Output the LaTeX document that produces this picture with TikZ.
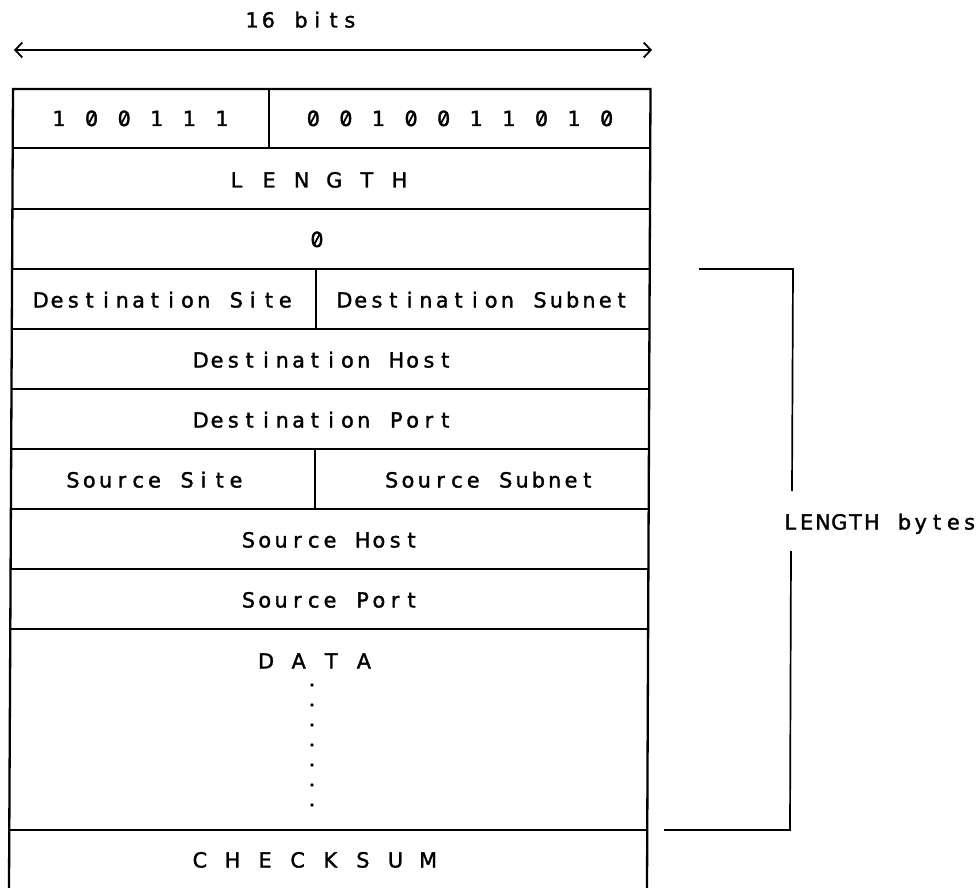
\documentclass[tikz,border=0pt]{standalone}
\usepackage{fontspec}
\setmainfont{DejaVu Sans}
\newfontfamily\pltfont{DejaVu Sans}[FakeBold=1.6]
\usepackage{graphicx}
\usetikzlibrary{arrows.meta}
\newlength\pltadv
\setlength\pltadv{16.3pt}
\newcommand\pltzero{\ooalign{\hfil0\hfil\cr\hfil\raisebox{1.2pt}{\rotatebox{62}{\rule{14pt}{1.8pt}}}\hfil\cr}}
\ExplSyntaxOn
\cs_new_protected:Npn \plt_char:n #1
 { \makebox[\pltadv][c]{ \str_if_eq:nnTF {#1} {0} { \pltzero } {#1} } }
\NewDocumentCommand \plt { m }
 { \str_map_inline:nn {#1} { \plt_char:n {##1} } }
\ExplSyntaxOff
\tikzset{
  txt/.style={inner sep=0pt, anchor=base, font=\pltfont\fontsize{20.8}{24}\selectfont},
  outer/.style={line width=2.3pt},
  inner/.style={line width=1.9pt},
  brk/.style={line width=1.7pt},
  dimarrow/.style={line width=1.8pt,
    {Straight Barb[length=7pt,width=15pt]}-{Straight Barb[length=7pt,width=15pt]}},
  dot/.style={fill=black}
}
\begin{document}
\begin{tikzpicture}[x=1pt,y=-1pt]
\fill[white] (0,0) rectangle (978,888);
\useasboundingbox (0,0) rectangle (978,888);

% width arrow
\node[txt] (bits) at (301,27.5) {\plt{16 bits}};
\coordinate (aL) at (14,50);
\coordinate (aR) at (652,50);
\draw[dimarrow] (aL) -- (aR);

% outer frame
\coordinate (tl) at (13,89);
\coordinate (tr) at (650.5,89);
\coordinate (bl) at (9,888);
\coordinate (br) at (647,888);
\draw[outer] (bl) -- (tl) -- (tr) -- (br);

% row separators
\draw[inner] (12.7,148) -- (650.2,148);
\draw[inner] (12.4,209) -- (650.0,209);
\draw[inner] (12.1,269) -- (649.7,269);
\draw[inner] (11.8,329) -- (649.4,329);
\draw[inner] (11.5,389) -- (649.2,389);
\draw[inner] (11.2,449) -- (648.9,449);
\draw[inner] (10.9,509) -- (648.7,509);
\draw[inner] (10.6,569) -- (648.4,569);
\draw[inner] (10.3,629) -- (648.1,629);
\draw[inner] (9.3,830) -- (647.3,830);

% column dividers
\draw[inner] (269,89) -- (269,148);
\draw[inner] (316,269) -- (316,329);
\draw[inner] (315,449) -- (315,509);

% field labels
\node[txt] (f1a) at (140.5,126) {\plt{1 0 0 1 1 1}};
\node[txt] (f1b) at (460,126) {\plt{0 0 1 0 0 1 1 0 1 0}};
\node[txt] (len) at (318,187.5) {\plt{L E N G T H}};
\node[txt] (zero) at (317,247) {\plt{0}};
\node[txt] (dsite) at (163,307.5) {\plt{Destination Site}};
\node[txt] (dsub) at (483,307.5) {\plt{Destination Subnet}};
\node[txt] (dhost) at (323,367.5) {\plt{Destination Host}};
\node[txt] (dport) at (323,427.5) {\plt{Destination Port}};
\node[txt] (ssite) at (154.5,487.5) {\plt{Source Site}};
\node[txt] (ssub) at (489.5,487.5) {\plt{Source Subnet}};
\node[txt] (shost) at (330,547.5) {\plt{Source Host}};
\node[txt] (sport) at (330,607.5) {\plt{Source Port}};
\node[txt] (data) at (315,668.5) {\plt{D A T A}};
\foreach \i in {0,...,6} \fill[dot] (312,685+20*\i) circle[radius=1.9pt];
\node[txt] (cks) at (314,867.5) {\plt{C H E C K S U M}};

% LENGTH bracket
\node[txt] (lb) at (880,529.5) {\plt{LENGTH bytes}};
\draw[brk] (699,269) -- (793,269) -- (792,491);
\draw[brk] (791,551) -- (790,830) -- (664,830);
\end{tikzpicture}
\end{document}
